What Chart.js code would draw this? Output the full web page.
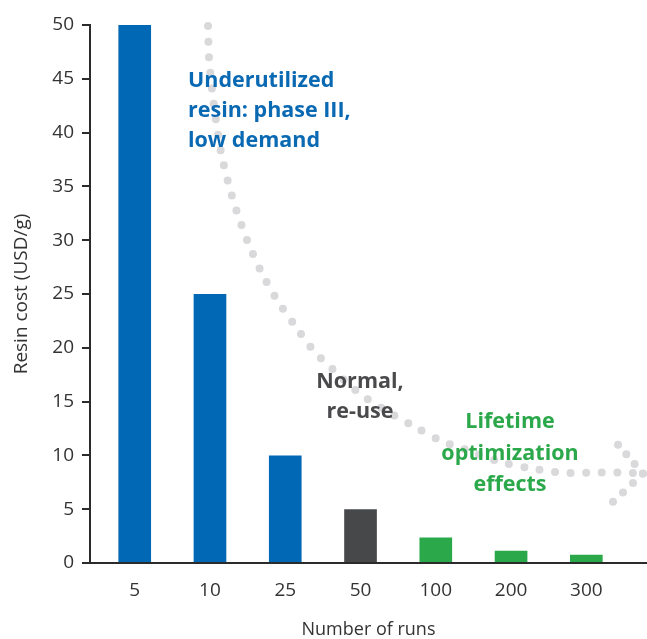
<!DOCTYPE html>
<html>
<head>
<meta charset="utf-8">
<script src="https://cdn.jsdelivr.net/npm/chart.js@4/dist/chart.umd.min.js"></script>
<style>
html,body{margin:0;padding:0;background:#fff;overflow:hidden;}
#wrap{width:647px;height:639px;position:relative;}
canvas{display:block;}
</style>
</head>
<body>
<div id="wrap"><canvas id="c" width="647" height="639"></canvas></div>
<script>
// ---- data ----
const categories = ['5', '10', '25', '50', '100', '200', '300'];
const resinCost = [50, 25, 10, 5, 2.38, 1.14, 0.77];
const barColors = ['#0068b4', '#0068b4', '#0068b4', '#47484a', '#2aa84a', '#2aa84a', '#2aa84a'];
const yTicks = [0, 5, 10, 15, 20, 25, 30, 35, 40, 45, 50];

// dotted trend curve (x in category-index units, y in USD/g)
const trendX = [0.974, 0.987, 1.027, 1.080, 1.146, 1.240, 1.359, 1.505, 1.678, 1.877, 2.116, 2.369, 2.661, 2.980, 3.326, 3.685, 4.057, 4.455, 4.854, 5.252, 5.677, 6.089, 6.514, 6.753];
const trendY = [49.9, 47.0, 44.0, 41.1, 38.2, 35.4, 32.6, 29.8, 27.1, 24.6, 22.2, 19.8, 17.8, 15.8, 14.2, 12.8, 11.4, 10.4, 9.4, 8.8, 8.4, 8.4, 8.4, 8.3];
// arrowhead arms at end of curve
const arrowTopX = [6.421, 6.753];
const arrowTopY = [11.0, 8.3];
const arrowBotX = [6.753, 6.354];
const arrowBotY = [8.3, 5.69];

const annotations = [
  {lines: ['Underutilized', 'resin: phase III,', 'low demand'], color: '#0a69b3', align: 'left'},
  {lines: ['Normal,', 're-use'], color: '#4a4a4c', align: 'center'},
  {lines: ['Lifetime', 'optimization', 'effects'], color: '#2aa84a', align: 'center'}
];
// ---- end data ----

const pts = (xs, ys) => xs.map((x, i) => ({x: x, y: ys[i]}));
const dotStyle = {
  type: 'line', borderColor: '#d9d9db', borderWidth: 8, borderCapStyle: 'round',
  pointRadius: 0, tension: 0.3, fill: false, clip: false
};

const annoPos = [
  {x: 188, y: 87, lh: 30},
  {x: 360, y: 388, lh: 30},
  {x: 510, y: 428, lh: 31.5}
];

const annoPlugin = {
  id: 'anno',
  afterDatasetsDraw(chart) {
    const ctx = chart.ctx;
    ctx.save();
    ctx.font = 'bold 21.5px "Open Sans"';
    ctx.textBaseline = 'alphabetic';
    annotations.forEach((a, k) => {
      const p = annoPos[k];
      ctx.fillStyle = a.color;
      ctx.textAlign = a.align;
      a.lines.forEach((t, i) => ctx.fillText(t, p.x, p.y + i * p.lh));
    });
    ctx.restore();
  }
};

new Chart(document.getElementById('c'), {
  type: 'bar',
  data: {
    datasets: [
      Object.assign({}, dotStyle, {data: pts(trendX, trendY), borderDash: [0, 15.6], order: 1}),
      Object.assign({}, dotStyle, {data: pts(arrowTopX, arrowTopY), borderDash: [0, 12.7], tension: 0, order: 1}),
      Object.assign({}, dotStyle, {data: pts(arrowBotX, arrowBotY), borderDash: [0, 13.7], tension: 0, order: 1}),
      {
        type: 'bar',
        data: categories.map((c, i) => ({x: i, y: resinCost[i]})),
        backgroundColor: barColors,
        barPercentage: 0.434,
        categoryPercentage: 1,
        order: 2
      }
    ]
  },
  options: {
    responsive: false,
    animation: false,
    devicePixelRatio: 1,
    layout: {padding: {top: 25, right: 0, left: 0, bottom: 0}},
    plugins: {legend: {display: false}, tooltip: {enabled: false}},
    scales: {
      x: {
        type: 'linear',
        offset: false,
        min: -0.594,
        max: 6.806,
        afterFit: s => { s.height = 76; },
        afterBuildTicks: s => { s.ticks = categories.map((c, i) => ({value: i})); },
        ticks: {
          callback: v => categories[v],
          font: {family: 'Open Sans', size: 19},
          color: '#333',
          padding: 16,
          maxRotation: 0,
          autoSkip: false
        },
        grid: {display: true, drawOnChartArea: false, drawTicks: false, offset: false},
        border: {display: true, color: '#2b2b2b', width: 2},
        title: {
          display: true, text: 'Number of runs',
          font: {family: 'Open Sans', size: 18, lineHeight: 1},
          color: '#333', padding: {top: 0, bottom: 0}
        }
      },
      y: {
        min: 0, max: 50,
        afterFit: s => { s.width = 90; },
        afterBuildTicks: s => { s.ticks = yTicks.map(v => ({value: v})); },
        ticks: {font: {family: 'Open Sans', size: 19}, color: '#333', padding: 8},
        grid: {display: true, drawOnChartArea: false, drawTicks: true, tickLength: 8, color: '#2b2b2b', lineWidth: 2},
        border: {display: true, color: '#2b2b2b', width: 2},
        title: {
          display: true, text: 'Resin cost (USD/g)',
          font: {family: 'Open Sans', size: 19, lineHeight: 1},
          color: '#333', padding: {top: 12, bottom: 12}
        }
      }
    }
  },
  plugins: [annoPlugin]
});
</script>
</body>
</html>
